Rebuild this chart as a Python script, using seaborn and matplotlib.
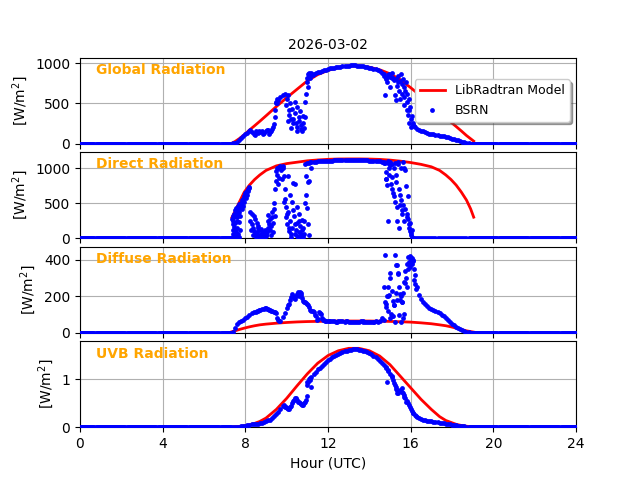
import numpy as np
import matplotlib
matplotlib.use("Agg")
import matplotlib.pyplot as plt
import seaborn as sns

DATE = "2026-03-02"
panel_names = ["Global Radiation", "Direct Radiation", "Diffuse Radiation", "UVB Radiation"]
x_ticks = [0, 4, 8, 12, 16, 20, 24]
y_ticks = [[0, 500, 1000], [0, 500, 1000], [0, 200, 400], [0, 1]]

# ---------------- LibRadtran model (hours UTC) ----------------
model_hours = [7.35, 7.5, 7.7, 7.95, 8.2, 8.45, 8.7, 9.0, 9.5, 10.0, 10.5, 11.0, 11.5, 12.0,
               12.5, 13.0, 13.5, 14.0, 14.5, 15.0, 15.5, 16.0, 16.5, 17.0, 17.4, 17.7,
               17.95, 18.2, 18.45, 18.7, 18.9, 19.05]
model_global = [5, 25, 60, 110, 168, 222, 277, 345, 460, 570, 675, 780, 857, 910,
                946, 965, 966, 950, 918, 868, 795, 695, 590, 483, 392, 322,
                266, 212, 157, 100, 60, 30]
model_direct = [296, 385, 510, 660, 760, 840, 905, 970, 1035, 1068, 1088, 1108, 1120, 1129,
                1134, 1135, 1135, 1133, 1128, 1118, 1103, 1083, 1057, 1022, 970, 905,
                840, 760, 660, 545, 420, 300]
model_diffuse = [5, 10, 17, 25, 32, 38, 43, 47, 52, 56, 59, 61, 62, 63,
                 64, 64, 64, 64, 63, 62, 60, 58, 54, 49, 43, 38,
                 32, 25, 17, 10, 6, 3]
model_uvb = [0.005, 0.01, 0.016, 0.03, 0.05, 0.08, 0.12, 0.19, 0.37, 0.60, 0.86, 1.11, 1.33, 1.49,
             1.59, 1.64, 1.64, 1.59, 1.48, 1.30, 1.06, 0.82, 0.58, 0.37, 0.22, 0.14,
             0.10, 0.06, 0.037, 0.02, 0.013, 0.008]

# ---------------- BSRN observations ----------------
# daytime values every 0.1 h starting at 7.3 h UTC
day_start, day_step = 7.3, 0.1
bsrn_global = [
    0, 2, 10, 25, 45, 70, 100, 118, 132, 150,            # 7.3 - 8.2
    140, 125, 152, 130, 142, 160, 135, 150, 168, 140,    # 8.3 - 9.2
    185, 240, 500, 545, 575, 600, 620, 560, 420, 300,    # 9.3 - 10.2
    250, 380, 200, 330, 180, 250, 520, 820, 845, 860,    # 10.3 - 11.2
    870, 880, 885, 895, 905, 912, 920, 928, 935, 940,    # 11.3 - 12.2
    945, 950, 955, 958, 962, 965, 968, 970, 971, 972,    # 12.3 - 13.2
    971, 970, 968, 965, 961, 956, 951, 945, 938, 930,    # 13.3 - 14.2
    922, 912, 900, 880, 860, 820, 850, 830, 810, 790,    # 14.3 - 15.2
    800, 760, 780, 740, 700, 520, 420, 300, 230, 200,    # 15.3 - 16.2
    185, 170, 160, 150, 140, 132, 125, 120, 115, 110,    # 16.3 - 17.2
    105, 100, 95, 90, 85, 78, 70, 60, 52, 45,            # 17.3 - 18.2
    38, 30, 22, 15, 8, 3]                                # 18.3 - 18.8
bsrn_direct = [
    0, 20, 120, 250, 380, 480, 560, 620, 680, 720,
    350, 100, 60, 150, 40, 80, 30, 60, 250, 120,
    300, 500, 960, 1010, 1020, 1030, 700, 350, 150, 60,
    400, 200, 30, 250, 60, 150, 1060, 1075, 1082, 1088,
    1092, 1095, 1098, 1100, 1102, 1104, 1106, 1108, 1110, 1112,
    1113, 1114, 1115, 1116, 1117, 1118, 1119, 1120, 1120, 1120,
    1120, 1119, 1118, 1117, 1116, 1115, 1114, 1112, 1110, 1108,
    1105, 1102, 1098, 1090, 1070, 850, 1080, 1050, 700, 600,
    900, 1060, 480, 400, 1000, 300, 200, 80, 0, 0,
    0, 0, 0, 0, 0, 0, 0, 0, 0, 0,
    0, 0, 0, 0, 0, 0, 0, 0, 0, 0,
    0, 0, 0, 0, 0, 0]
bsrn_diffuse = [
    0, 5, 25, 45, 58, 64, 70, 78, 88, 98,
    106, 111, 112, 118, 125, 128, 132, 135, 128, 125,
    118, 116, 110, 70, 62, 85, 110, 135, 160, 195,
    200, 185, 215, 200, 220, 175, 170, 160, 140, 120,
    115, 90, 75, 110, 80, 68, 64, 63, 62, 65,
    63, 61, 62, 64, 62, 60, 62, 61, 60, 61,
    60, 61, 60, 62, 60, 61, 60, 60, 61, 60,
    62, 60, 63, 80, 250, 160, 200, 330, 90, 150,
    375, 330, 210, 170, 280, 250, 380, 410, 400, 320,
    250, 205, 185, 170, 155, 145, 138, 130, 125, 118,
    112, 107, 98, 90, 80, 68, 56, 47, 40, 33,
    26, 20, 15, 10, 6, 3]
bsrn_uvb = [
    0, 0, 0.003, 0.006, 0.01, 0.015, 0.02, 0.03, 0.04, 0.05,
    0.06, 0.065, 0.07, 0.075, 0.08, 0.09, 0.1, 0.12, 0.14, 0.16,
    0.2, 0.23, 0.27, 0.32, 0.37, 0.44, 0.43, 0.40, 0.37, 0.45,
    0.55, 0.6, 0.57, 0.52, 0.48, 0.47, 0.52, 0.88, 1.0, 1.05,
    1.1, 1.15, 1.2, 1.24, 1.28, 1.32, 1.36, 1.39, 1.42, 1.45,
    1.48, 1.5, 1.52, 1.54, 1.56, 1.58, 1.59, 1.6, 1.61, 1.62,
    1.625, 1.62, 1.615, 1.6, 1.59, 1.575, 1.56, 1.54, 1.52, 1.49,
    1.46, 1.42, 1.38, 1.34, 1.3, 1.25, 1.18, 1.1, 1.05, 0.92,
    0.8, 0.72, 0.78, 0.74, 0.63, 0.55, 0.47, 0.38, 0.3, 0.26,
    0.22, 0.19, 0.17, 0.15, 0.14, 0.13, 0.125, 0.12, 0.115, 0.11,
    0.1, 0.095, 0.085, 0.08, 0.072, 0.065, 0.058, 0.052, 0.046, 0.04,
    0.035, 0.03, 0.025, 0.018, 0.012, 0.006]

# additional (hour, value) BSRN samples during cloudy periods
extra_global = [
    (8.25, 165), (8.45, 110), (8.65, 150), (8.85, 120), (9.05, 170), (9.15, 125), (9.25, 155),
    (9.35, 210), (9.42, 330), (9.45, 420), (9.48, 520), (9.52, 560), (9.55, 500),
    (9.95, 480), (10.05, 280), (10.08, 600), (10.12, 350), (10.18, 510), (10.22, 190),
    (10.28, 430), (10.33, 310), (10.38, 520), (10.43, 260), (10.48, 450), (10.52, 160),
    (10.58, 280), (10.63, 400), (10.68, 230), (10.73, 150), (10.78, 340), (10.83, 190),
    (10.88, 330), (10.93, 620), (10.97, 760), (11.02, 860), (11.05, 700), (11.08, 880),
    (11.12, 820), (11.18, 875), (11.25, 850),
    (14.72, 840), (14.78, 610), (14.82, 800), (14.86, 760), (14.95, 870), (15.02, 700),
    (15.08, 880), (15.15, 820), (15.22, 600), (15.27, 540), (15.33, 720), (15.38, 840),
    (15.43, 650), (15.48, 560), (15.52, 860), (15.57, 620), (15.62, 800), (15.66, 480),
    (15.7, 580), (15.74, 650), (15.77, 760), (15.8, 420), (15.83, 620), (15.86, 350),
    (15.9, 560), (15.93, 250), (15.97, 450), (16.02, 210), (16.06, 340), (16.12, 260),
    (16.18, 220)]
extra_direct = [
    (7.36, 280), (7.38, 320), (7.38, 200), (7.4, 250), (7.4, 120), (7.43, 350), (7.46, 300),
    (7.5, 400), (7.53, 350), (7.57, 430), (7.6, 400), (7.63, 460), (7.67, 440), (7.7, 490),
    (7.42, 60), (7.45, 160), (7.48, 30), (7.52, 220), (7.55, 90), (7.58, 300), (7.62, 150),
    (7.65, 350), (7.68, 230), (7.72, 430), (7.75, 320), (7.78, 500), (7.82, 420), (7.85, 540),
    (7.88, 460), (7.92, 600), (7.95, 520), (7.98, 640), (8.02, 580), (8.05, 660), (8.08, 620),
    (8.12, 700), (8.15, 680), (8.18, 730), (7.55, 20), (7.65, 60), (7.75, 110), (7.7, 10),
    (8.22, 380), (8.25, 250), (8.28, 120), (8.32, 200), (8.35, 150), (8.38, 40), (8.42, 320),
    (8.45, 60), (8.48, 270), (8.52, 20), (8.55, 220), (8.58, 90), (8.62, 180), (8.65, 30),
    (8.68, 110), (8.72, 10), (8.75, 60), (8.78, 130), (8.82, 20), (8.85, 90), (8.88, 50),
    (8.92, 10), (8.95, 120), (8.98, 40), (9.02, 30), (9.05, 90), (9.08, 140), (9.12, 330),
    (9.15, 200), (9.18, 280), (9.22, 40), (9.25, 170), (9.28, 380), (9.32, 220), (9.35, 90),
    (9.38, 410), (9.42, 320),
    (9.45, 700), (9.48, 820), (9.52, 1000), (9.55, 900), (9.58, 770), (9.62, 1020), (9.65, 860),
    (9.68, 1030), (9.72, 980), (9.75, 1010), (9.78, 840), (9.82, 1000), (9.85, 520), (9.88, 890),
    (9.92, 560), (9.95, 300), (9.98, 450), (10.02, 200), (10.05, 890), (10.08, 380), (10.12, 100),
    (10.15, 620), (10.18, 250), (10.22, 20), (10.25, 520), (10.28, 150), (10.32, 795),
    (10.35, 320), (10.38, 60), (10.42, 770), (10.45, 120), (10.48, 440), (10.52, 220),
    (10.55, 10), (10.58, 350), (10.62, 90), (10.65, 180), (10.68, 30), (10.72, 260),
    (10.75, 120), (10.78, 20), (10.82, 240), (10.85, 60), (10.88, 500), (10.92, 890),
    (10.95, 620), (10.98, 430), (11.02, 810), (11.05, 200), (11.08, 50), (11.1, 820),
    (11.15, 1090), (11.2, 1000),
    (14.72, 1095), (14.76, 1080), (14.8, 950), (14.83, 840), (14.86, 760), (14.88, 250),
    (14.9, 1100), (14.93, 1000), (14.96, 900), (15.0, 1095), (15.04, 780), (15.08, 1060),
    (15.12, 880), (15.15, 650), (15.18, 1000), (15.22, 520), (15.25, 1070), (15.28, 800),
    (15.32, 450), (15.35, 250), (15.38, 1090), (15.42, 700), (15.45, 150), (15.48, 620),
    (15.52, 1000), (15.55, 550), (15.58, 350), (15.62, 1090), (15.65, 480), (15.68, 250),
    (15.72, 980), (15.75, 420), (15.78, 750), (15.82, 350), (15.85, 600), (15.88, 280),
    (15.92, 150), (15.95, 220), (15.98, 100), (16.02, 50), (16.05, 120), (16.08, 20)]
extra_diffuse = [
    (8.55, 118), (8.65, 122), (8.95, 133), (9.05, 128), (9.15, 122), (9.25, 120), (9.45, 112),
    (9.55, 80), (9.65, 64),
    (10.05, 150), (10.15, 180), (10.25, 210), (10.35, 190), (10.45, 200), (10.55, 225),
    (10.62, 210), (10.65, 222), (10.68, 205), (10.75, 190), (10.85, 168), (10.95, 165),
    (11.05, 150), (11.15, 125), (11.25, 118), (11.35, 95), (11.45, 72), (11.55, 115),
    (11.65, 100), (11.75, 72), (11.85, 65),
    (12.05, 66), (12.45, 60), (12.85, 64), (13.7, 63), (14.25, 61),
    (14.72, 70), (14.75, 430), (14.78, 170), (14.82, 140), (14.85, 200), (14.88, 253),
    (14.92, 120), (14.95, 207), (14.98, 80), (15.02, 300), (15.05, 100), (15.1, 230),
    (15.13, 175), (15.16, 89), (15.2, 150), (15.22, 60), (15.25, 430), (15.28, 216),
    (15.32, 371), (15.35, 180), (15.4, 325), (15.42, 95), (15.45, 253), (15.48, 180),
    (15.52, 60), (15.55, 200), (15.6, 170), (15.62, 80), (15.65, 216), (15.68, 100),
    (15.72, 271), (15.75, 340), (15.78, 300), (15.82, 380), (15.85, 350), (15.88, 415),
    (15.92, 390), (15.95, 360), (15.98, 420), (16.02, 400), (16.05, 380), (16.08, 412),
    (16.12, 395), (16.15, 350), (16.18, 290), (16.22, 270), (16.25, 240)]
extra_uvb = [
    (9.85, 0.47), (9.95, 0.42), (10.05, 0.38), (10.15, 0.41), (10.25, 0.5), (10.35, 0.57),
    (10.45, 0.6), (10.55, 0.53), (10.65, 0.5), (10.75, 0.47), (10.85, 0.5), (10.95, 0.57),
    (11.0, 0.64), (10.97, 0.95), (11.05, 0.93), (11.13, 1.02), (11.2, 0.83), (11.15, 0.98),
    (14.82, 1.23), (14.85, 0.95), (14.92, 1.16), (15.08, 1.06), (15.15, 0.98), (15.24, 0.88),
    (15.28, 0.83), (15.32, 0.78), (15.36, 0.71), (15.45, 0.75), (15.56, 0.81), (15.62, 0.71),
    (15.68, 0.66), (15.73, 0.60), (15.77, 0.53), (15.85, 0.5), (15.97, 0.43), (16.05, 0.33),
    (16.13, 0.29), (16.25, 0.24)]

# BSRN reports zero at night (sampled every 0.05 h)
night_hours = np.concatenate([np.arange(0.0, 7.3, 0.05), np.arange(18.85, 24.001, 0.05)])


def bsrn_series(base, extra):
    t_day = day_start + day_step * np.arange(len(base))
    et = [p[0] for p in extra]
    ev = [p[1] for p in extra]
    t = np.concatenate([night_hours, t_day, et])
    v = np.concatenate([np.zeros(len(night_hours)), base, ev])
    return t, v


series = [
    (model_global, bsrn_series(bsrn_global, extra_global)),
    (model_direct, bsrn_series(bsrn_direct, extra_direct)),
    (model_diffuse, bsrn_series(bsrn_diffuse, extra_diffuse)),
    (model_uvb, bsrn_series(bsrn_uvb, extra_uvb)),
]

fig, axes = plt.subplots(4, 1, sharex=True, figsize=(6.4, 4.8), dpi=100)
fig.subplots_adjust(hspace=0.1)

for i, (ax, name, yt, (mv, (bt, bv))) in enumerate(zip(axes, panel_names, y_ticks, series)):
    first = i == 0
    sns.lineplot(x=model_hours, y=mv, ax=ax, color="red", linewidth=2,
                 label="LibRadtran Model" if first else None, zorder=2, estimator=None)
    sns.scatterplot(x=bt, y=bv, ax=ax, color="blue", s=12, linewidth=0, marker="o",
                    label="BSRN" if first else None, zorder=3)
    ax.set_ylim(0, 1.1 * np.max(bv))
    ax.set_yticks(yt)
    ax.set_ylabel("[W/m$^2$]")
    ax.grid(True)
    ax.text(0.032, 0.81, name, transform=ax.transAxes, color="orange",
            fontweight="bold", fontsize=10)
    if not first and ax.get_legend() is not None:
        ax.get_legend().remove()

axes[0].legend(loc="center right", fontsize=9, shadow=True)
axes[0].set_title(DATE, fontsize=10)
axes[-1].set_xlim(0, 24)
axes[-1].set_xticks(x_ticks)
axes[-1].set_xlabel("Hour (UTC)")

fig.savefig("out.png", dpi=100)
